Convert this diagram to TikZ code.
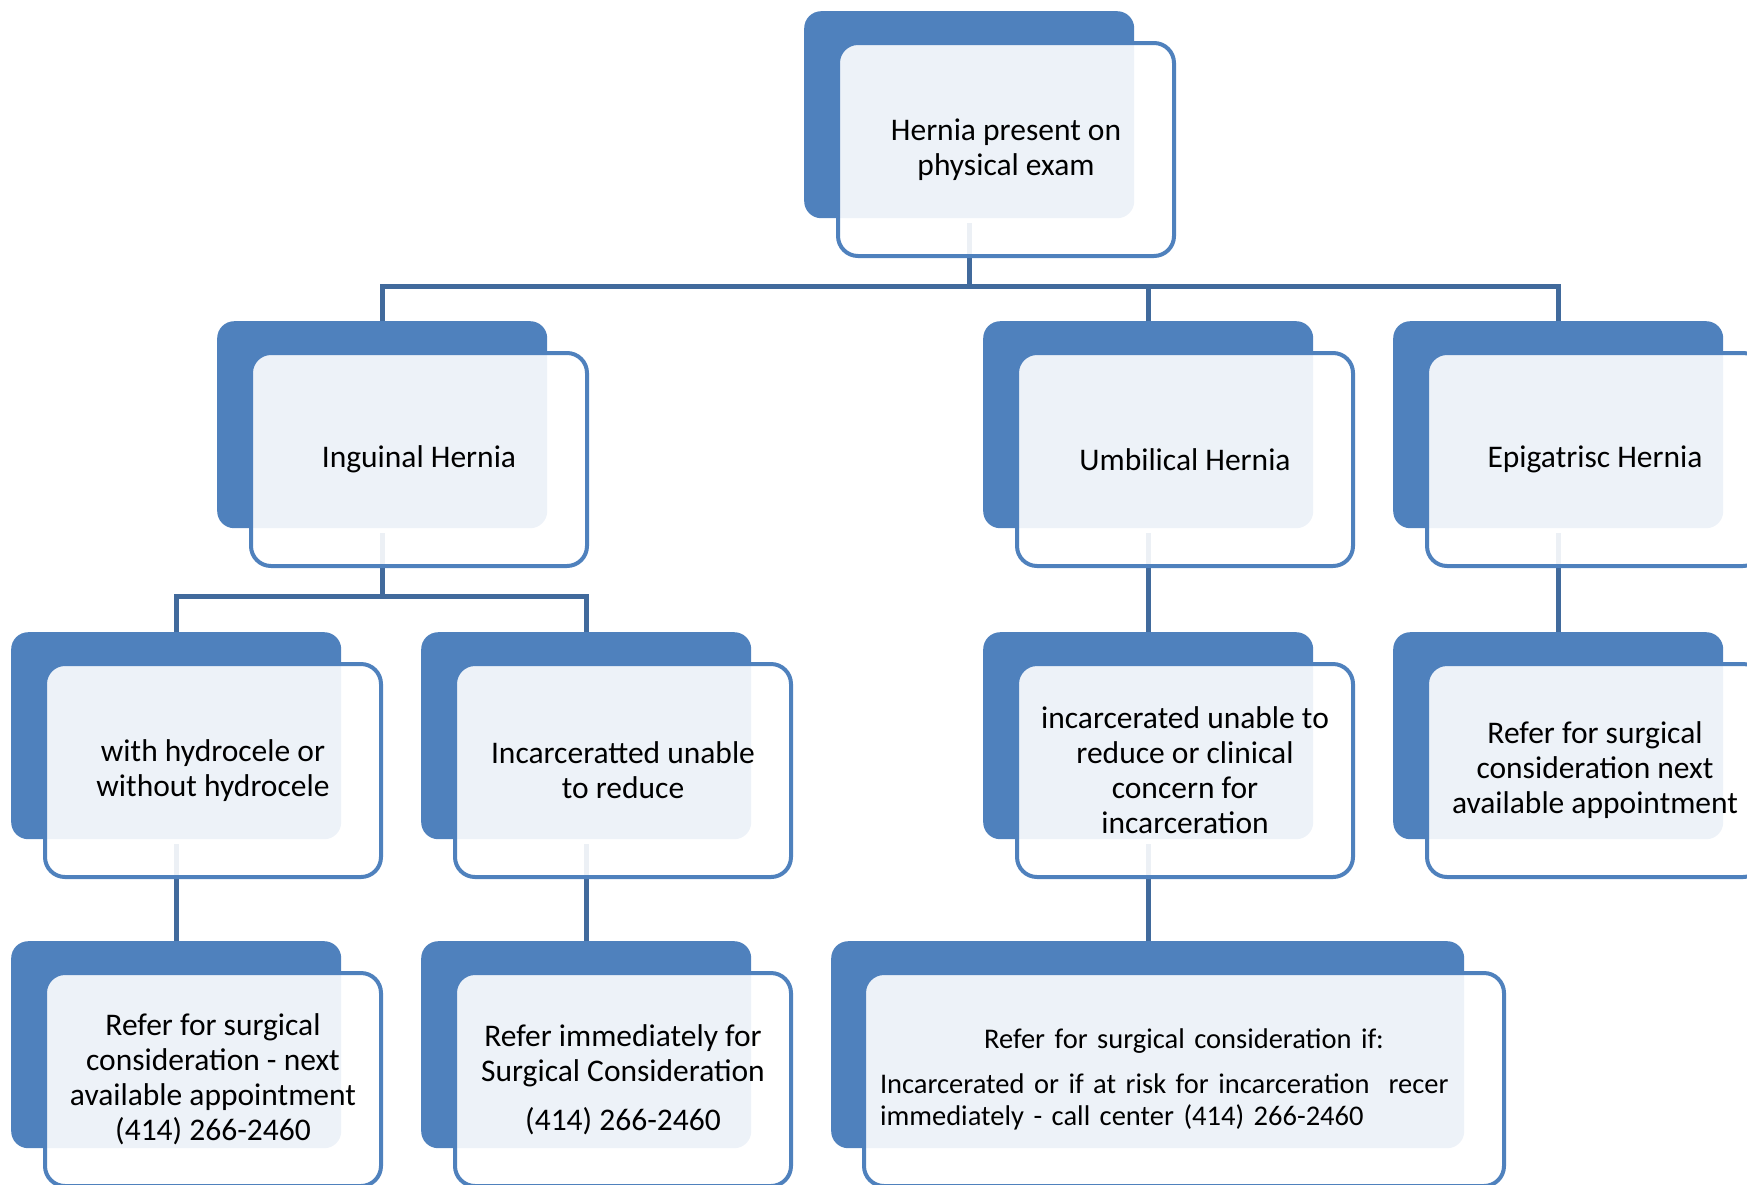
\documentclass[tikz,border=0pt]{standalone}
\usepackage{fontspec}
\setmainfont{Carlito}
\definecolor{accent}{RGB}{79,129,189}
\definecolor{connc}{RGB}{65,106,156}
\begin{document}
\begin{tikzpicture}[x=1pt,y=-1pt,
  backbox/.style={fill=accent, rounded corners=17pt, minimum width=330pt, minimum height=207pt, inner sep=0pt, anchor=north west},
  frontbox/.style={draw=accent, line width=4pt, fill=white, fill opacity=0.9, text opacity=1, rounded corners=20pt, minimum width=336pt, minimum height=213pt, inner sep=0pt, anchor=north west, align=center, text=black, font=\fontsize{31.5}{35}\selectfont},
  conn/.style={draw=connc, line width=5pt},
]
\useasboundingbox (0,0) rectangle (1747,1184);
\clip (0,0) rectangle (1747,1184);
% back boxes
\node[backbox] (topB) at (804,11) {};
\node[backbox] (ingB) at (217,321) {};
\node[backbox] (umbB) at (983,321) {};
\node[backbox] (epiB) at (1393,321) {};
\node[backbox] (hydB) at (11,632) {};
\node[backbox] (incB) at (421,632) {};
\node[backbox] (uincB) at (983,632) {};
\node[backbox] (erefB) at (1393,632) {};
\node[backbox] (ref1B) at (11,941) {};
\node[backbox] (ref2B) at (421,941) {};
\node[backbox, minimum width=633pt] (bigB) at (831,941) {};
% connectors
\coordinate (h1) at (0,286);
\coordinate (h2) at (0,596);
\draw[conn] ([yshift=-5pt]topB.south) -- (topB.south |- h1);
\draw[conn] (ingB.north) -- (ingB.north |- h1) -- (epiB.north |- h1) -- (epiB.north);
\draw[conn] (umbB.north) -- (umbB.north |- h1);
\draw[conn] ([yshift=-5pt]ingB.south) -- (ingB.south |- h2);
\draw[conn] (hydB.north) -- (hydB.north |- h2) -- (incB.north |- h2) -- (incB.north);
\draw[conn] ([yshift=-5pt]umbB.south) -- (uincB.north);
\draw[conn] ([yshift=-5pt]epiB.south) -- (erefB.north);
\draw[conn] ([yshift=-5pt]hydB.south) -- (ref1B.north);
\draw[conn] ([yshift=-5pt]incB.south) -- (ref2B.north);
\draw[conn] ([yshift=-5pt]uincB.south) -- (uincB.south |- bigB.north);
% front boxes
\node[frontbox] (top) at (836,41) {Hernia present on\\physical exam};
\node[frontbox] (ing) at (249,351) {Inguinal Hernia};
\node[frontbox] (umb) at (1015,351) {Umbilical Hernia};
\node[frontbox] (epi) at (1425,351) {Epigatrisc Hernia};
\node[frontbox] (hyd) at (43,662) {with hydrocele or\\without hydrocele};
\node[frontbox] (inc) at (453,662) {Incarceratted unable\\to reduce};
\node[frontbox] (uinc) at (1015,662) {incarcerated unable to\\reduce or clinical\\concern for\\incarceration};
\node[frontbox] (eref) at (1425,662) {Refer for surgical\\consideration next\\available appointment};
\node[frontbox] (ref1) at (43,971) {Refer for surgical\\consideration - next\\available appointment\\(414) 266-2460};
\node[frontbox] (ref2) at (453,971) {Refer immediately for\\Surgical Consideration\\[14pt](414) 266-2460};
\node[frontbox, minimum width=640pt, text width=608pt, align=left, font=\fontsize{28.5}{32}\selectfont] (big) at (862,971) {\makebox[608pt][c]{Refer for surgical consideration if:}\\[13pt]Incarcerated or if at risk for incarceration\ \ recer\\immediately - call center (414) 266-2460};
\end{tikzpicture}
\end{document}
